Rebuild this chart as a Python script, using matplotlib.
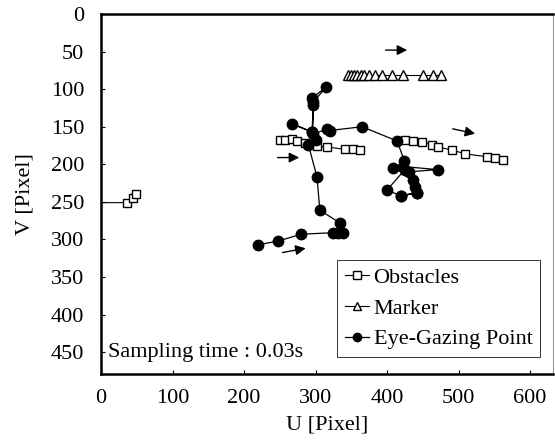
import numpy as np
import matplotlib
matplotlib.use("Agg")
import matplotlib.pyplot as plt

plt.rcParams['font.family'] = ['Liberation Serif', 'DejaVu Serif']

# obstacle tracks (three groups, separated by NaN)
obst_u = [-20, 36, 45, 49, np.nan,
          250, 257, 267, 274, 285, 302, 316, 341, 352, 362, np.nan,
          425, 436, 449, 463, 471, 491, 509, 540, 551, 562]
obst_v = [251, 251, 245, 239, np.nan,
          168, 168, 166, 169, 172, 176, 177, 180, 180, 181, np.nan,
          168, 169, 170, 174, 177, 181, 186, 190, 192, 194]

# marker track
mark_u = [345, 350, 354, 358, 363, 368, 375, 383, 393, 407, 422, 450, 464, 476]
mark_v = [81, 81, 81, 81, 81, 81, 81, 81, 81, 81, 81, 81, 81, 81]

# eye-gazing point track
eye_u = [220, 248, 280, 324, 331, 338, 334, 306, 302, 290, 300, 295, 267, 295,
         297, 295, 315, 297, 296, 316, 320, 365, 414, 424, 422, 408, 422, 471,
         430, 436, 439, 442, 419, 442, 419, 400, 425]
eye_v = [307, 302, 293, 291, 291, 291, 278, 261, 217, 174, 168, 157, 146, 157,
         121, 112, 97, 117, 160, 153, 155, 150, 169, 195, 203, 205, 203, 207,
         210, 221, 230, 238, 242, 238, 242, 234, 207]

# direction arrows (start u, start v, end u, end v)
arrows = [(394, 48, 432, 48),
          (488, 152, 527, 160),
          (243, 191, 281, 191),
          (250, 318, 290, 311)]

fig = plt.figure(figsize=(5.55, 4.46), dpi=100)
ax = fig.add_axes([0.182, 0.1614, 0.8144, 0.8072])

ax.plot(obst_u, obst_v, color='black', lw=0.8, marker='s', ms=5.5,
        mfc='white', mec='black', mew=1.0, label='Obstacles')
ax.plot(mark_u, mark_v, color='black', lw=0.8, marker='^', ms=6.5,
        mfc='white', mec='black', mew=1.0, label='Marker')
ax.plot(eye_u, eye_v, color='black', lw=0.9, marker='o', ms=7.5,
        mfc='black', mec='black', label='Eye-Gazing Point')

for u0, v0, u1, v1 in arrows:
    ax.annotate('', xy=(u1, v1), xytext=(u0, v0),
                arrowprops=dict(arrowstyle='-|>', color='black', lw=1.0,
                                mutation_scale=15))

ax.text(10, 450, 'Sampling time : 0.03s', fontsize=16, va='center', ha='left')

ax.set_xlim(0, 632)
ax.set_ylim(479, 0)
ax.set_xticks(range(0, 601, 100))
ax.set_yticks(range(0, 451, 50))
ax.tick_params(direction='in', length=3, width=0.8, labelsize=16)
ax.tick_params(axis='y', pad=12)
ax.tick_params(axis='x', pad=11)
ax.set_xlabel('U [Pixel]', fontsize=16, labelpad=5)
ax.set_ylabel('V [Pixel]', fontsize=16, labelpad=12)

for s in ['left', 'top', 'bottom']:
    ax.spines[s].set_linewidth(1.8)
ax.spines['right'].set_linewidth(0.8)
ax.spines['right'].set_color('#999999')

leg = ax.legend(loc='upper left', bbox_to_anchor=(0.522, 0.317), borderaxespad=0,
                fontsize=16, frameon=True, fancybox=False, handlelength=1.1,
                handletextpad=0.2, labelspacing=0.45, borderpad=0.35)
leg.get_frame().set_edgecolor('black')
leg.get_frame().set_linewidth(0.7)
for h in leg.legend_handles:
    h.set_markersize(6)

fig.savefig('out.png', dpi=100)
